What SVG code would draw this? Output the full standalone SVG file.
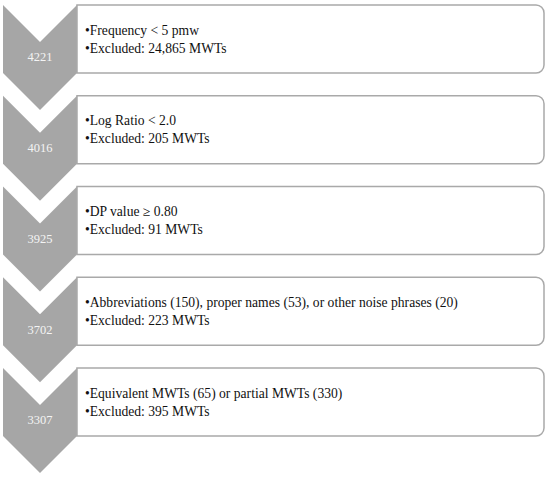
<svg xmlns="http://www.w3.org/2000/svg" width="550" height="479" viewBox="0 0 550 479">
<style>
.chev{fill:#a6a6a6;}
.box{fill:#ffffff;stroke:#a9a9a9;stroke-width:1.5;}
.num{font-family:"Liberation Serif","Times New Roman",serif;font-size:12.5px;fill:#f4f4f4;text-anchor:middle;}
.txt{font-family:"Liberation Serif","Times New Roman",serif;font-size:13.6px;fill:#111111;}
</style>
<rect width="550" height="479" fill="#ffffff"/>
<g id="step1">
<path class="chev" d="M3,5 L40,42 L77,5 L77,73 L40,110 L3,73 Z"/>
<path class="box" d="M77,5 H536 A8,8 0 0 1 544,13 V65 A8,8 0 0 1 536,73 H77 Z"/>
<text class="num" x="40" y="61">4221</text>
<text class="txt" x="85" y="34.5">•Frequency &lt; 5 pmw</text>
<text class="txt" x="85" y="52.5">•Excluded: 24,865 MWTs</text>
</g>
<g id="step2">
<path class="chev" d="M3,95.75 L40,132.75 L77,95.75 L77,163.75 L40,200.75 L3,163.75 Z"/>
<path class="box" d="M77,95.75 H536 A8,8 0 0 1 544,103.75 V155.75 A8,8 0 0 1 536,163.75 H77 Z"/>
<text class="num" x="40" y="151.5">4016</text>
<text class="txt" x="85" y="125.25">•Log Ratio &lt; 2.0</text>
<text class="txt" x="85" y="143.25">•Excluded: 205 MWTs</text>
</g>
<g id="step3">
<path class="chev" d="M3,186.5 L40,223.5 L77,186.5 L77,254.5 L40,291.5 L3,254.5 Z"/>
<path class="box" d="M77,186.5 H536 A8,8 0 0 1 544,194.5 V246.5 A8,8 0 0 1 536,254.5 H77 Z"/>
<text class="num" x="40" y="242.5">3925</text>
<text class="txt" x="85" y="216">•DP value ≥ 0.80</text>
<text class="txt" x="85" y="234">•Excluded: 91 MWTs</text>
</g>
<g id="step4">
<path class="chev" d="M3,277.25 L40,314.25 L77,277.25 L77,345.25 L40,382.25 L3,345.25 Z"/>
<path class="box" d="M77,277.25 H536 A8,8 0 0 1 544,285.25 V337.25 A8,8 0 0 1 536,345.25 H77 Z"/>
<text class="num" x="40" y="333.5">3702</text>
<text class="txt" x="85" y="306.75">•Abbreviations (150), proper names (53), or other noise phrases (20)</text>
<text class="txt" x="85" y="324.75">•Excluded: 223 MWTs</text>
</g>
<g id="step5">
<path class="chev" d="M3,368 L40,405 L77,368 L77,436 L40,473 L3,436 Z"/>
<path class="box" d="M77,368 H536 A8,8 0 0 1 544,376 V428 A8,8 0 0 1 536,436 H77 Z"/>
<text class="num" x="40" y="424">3307</text>
<text class="txt" x="85" y="397.5">•Equivalent MWTs (65) or partial MWTs (330)</text>
<text class="txt" x="85" y="415.5">•Excluded: 395 MWTs</text>
</g>
<g id="connectors"></g>
</svg>
